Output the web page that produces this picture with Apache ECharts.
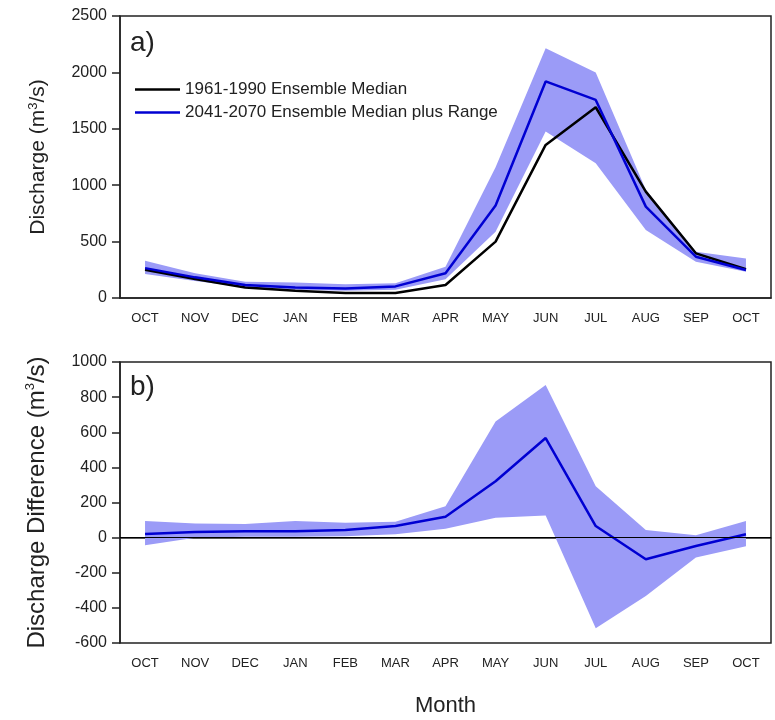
<!DOCTYPE html>
<html>
<head>
<meta charset="utf-8">
<title>Discharge</title>
<script src="https://cdn.jsdelivr.net/npm/echarts@6/dist/echarts.min.js"></script>
<style>
    html, body { margin: 0; padding: 0; background: #fff; }
    #main { width: 775px; height: 720px; }
</style>
</head>
<body>
<div id="main"></div>
<script>
// 月份 (水文年 OCT -> OCT)
var months = ['OCT', 'NOV', 'DEC', 'JAN', 'FEB', 'MAR', 'APR', 'MAY', 'JUN', 'JUL', 'AUG', 'SEP', 'OCT'];

// a) 流量
var histMedian = [250, 168, 94, 65, 44, 44, 115, 500, 1357, 1691, 943, 396, 255];
var futMedian = [265, 183, 115, 94, 85, 103, 219, 820, 1920, 1756, 810, 366, 248];
var futMin = [212, 150, 95, 73, 65, 73, 166, 588, 1475, 1195, 603, 322, 233];
var futMax = [330, 220, 144, 138, 123, 130, 278, 1160, 2215, 2000, 960, 410, 350];

// b) 流量差
var diffMedian = [20, 32, 36, 36, 43, 66, 119, 321, 567, 66, -123, -48, 19];
var diffMin = [-44, 0, 5, 5, 8, 19, 51, 113, 126, -516, -333, -113, -49];
var diffMax = [94, 81, 77, 94, 85, 91, 179, 661, 869, 293, 43, 13, 94];

var topTicks = [0, 500, 1000, 1500, 2000, 2500];
var bottomTicks = [-600, -400, -200, 0, 200, 400, 600, 800, 1000];

var histName = '1961-1990 Ensemble Median';
var futName = '2041-2070 Ensemble Median plus Range';

(function () {
    var myChart = echarts.init(document.getElementById('main'));

    var font = 'Liberation Sans, Arial, Helvetica, sans-serif';
    var textColor = '#222';
    var bandColor = '#9b9bf7';
    var blue = '#0000d2';

    // 区间的宽度 (堆叠用)
    function spread(lo, hi) {
        return hi.map(function (v, i) { return v - lo[i]; });
    }

    function yName(label, size) {
        return {
            name: '{t|' + label + ' (m}{s|3}{t|/s)}',
            nameLocation: 'middle',
            nameGap: 70,
            nameTextStyle: {
                rich: {
                    t: { fontSize: size, color: textColor, fontFamily: font, lineHeight: size + 2 },
                    s: { fontSize: 13, color: textColor, fontFamily: font, verticalAlign: 'top', lineHeight: 14 }
                }
            }
        };
    }

    function xAxis(idx, withName) {
        var ax = {
            type: 'category',
            gridIndex: idx,
            data: months,
            boundaryGap: true,
            axisLine: { lineStyle: { color: textColor, width: 1.5 } },
            axisTick: { alignWithLabel: true, length: 8, lineStyle: { color: textColor, width: 1.5 } },
            axisLabel: { color: textColor, fontSize: 13, fontFamily: font, margin: 14, interval: 0 },
            splitLine: { show: false }
        };
        if (withName) {
            ax.name = 'Month';
            ax.nameLocation = 'middle';
            ax.nameGap = 52;
            ax.nameTextStyle = { fontSize: 22, color: textColor, fontFamily: font };
        }
        return ax;
    }

    function yAxis(idx, ticks, label, size) {
        var ax = {
            type: 'value',
            gridIndex: idx,
            min: ticks[0],
            max: ticks[ticks.length - 1],
            interval: ticks[1] - ticks[0],
            axisLine: { show: true, onZero: false, lineStyle: { color: textColor, width: 1.5 } },
            axisTick: { show: true, length: 8, lineStyle: { color: textColor, width: 1.5 } },
            axisLabel: {
                color: textColor, fontSize: 16, fontFamily: font, margin: 13,
                // 不要千位分隔符
                formatter: function (v) { return String(v); }
            },
            splitLine: { show: false }
        };
        var n = yName(label, size);
        for (var k in n) ax[k] = n[k];
        return ax;
    }

    var option = {
        animation: false,
        backgroundColor: '#fff',
        grid: [
            { left: 120, right: 4, top: 16, height: 282, show: true, borderColor: textColor, borderWidth: 1.5 },
            { left: 120, right: 4, top: 362, height: 281, show: true, borderColor: textColor, borderWidth: 1.5 }
        ],
        legend: {
            data: [
                { name: histName, icon: 'rect', itemStyle: { color: '#000' } },
                { name: futName, icon: 'rect', itemStyle: { color: blue } }
            ],
            orient: 'vertical',
            left: 130,
            top: 76,
            itemWidth: 45,
            itemHeight: 2.5,
            itemGap: 6,
            selectedMode: false,
            textStyle: { fontSize: 17, color: textColor, fontFamily: font, lineHeight: 15 }
        },
        graphic: [
            { type: 'text', left: 130, top: 29, style: { text: 'a)', fontSize: 28, fill: '#222', fontFamily: font } },
            { type: 'text', left: 130, top: 373, style: { text: 'b)', fontSize: 28, fill: '#222', fontFamily: font } }
        ],
        xAxis: [xAxis(0, false), xAxis(1, true)],
        yAxis: [
            yAxis(0, topTicks, 'Discharge', 21),
            yAxis(1, bottomTicks, 'Discharge Difference', 24)
        ],
        series: [
            // 上图区间
            {
                name: 'rangeLow', type: 'line', xAxisIndex: 0, yAxisIndex: 0,
                stack: 'top', stackStrategy: 'all', symbol: 'none', silent: true,
                lineStyle: { opacity: 0 }, data: futMin
            },
            {
                name: 'rangeHigh', type: 'line', xAxisIndex: 0, yAxisIndex: 0,
                stack: 'top', stackStrategy: 'all', symbol: 'none', silent: true,
                lineStyle: { opacity: 0 }, areaStyle: { color: bandColor, opacity: 1 },
                data: spread(futMin, futMax)
            },
            {
                name: histName, type: 'line', xAxisIndex: 0, yAxisIndex: 0,
                symbol: 'none', color: '#000', lineStyle: { color: '#000', width: 2.5 },
                data: histMedian
            },
            {
                name: futName, type: 'line', xAxisIndex: 0, yAxisIndex: 0,
                symbol: 'none', color: blue, lineStyle: { color: blue, width: 2.5 },
                data: futMedian
            },
            // 下图区间
            {
                name: 'diffLow', type: 'line', xAxisIndex: 1, yAxisIndex: 1,
                stack: 'bottom', stackStrategy: 'all', symbol: 'none', silent: true,
                lineStyle: { opacity: 0 }, data: diffMin
            },
            {
                name: 'diffHigh', type: 'line', xAxisIndex: 1, yAxisIndex: 1,
                stack: 'bottom', stackStrategy: 'all', symbol: 'none', silent: true,
                lineStyle: { opacity: 0 }, areaStyle: { color: bandColor, opacity: 1 },
                data: spread(diffMin, diffMax)
            },
            {
                name: 'diffMedian', type: 'line', xAxisIndex: 1, yAxisIndex: 1,
                symbol: 'none', lineStyle: { color: blue, width: 2.5 },
                data: diffMedian,
                // 零线
                markLine: {
                    silent: true,
                    symbol: ['none', 'none'],
                    label: { show: false },
                    lineStyle: { color: '#000', width: 1.2, type: 'solid' },
                    data: [{ yAxis: 0 }]
                }
            }
        ]
    };

    myChart.setOption(option);
})();
</script>
</body>
</html>
